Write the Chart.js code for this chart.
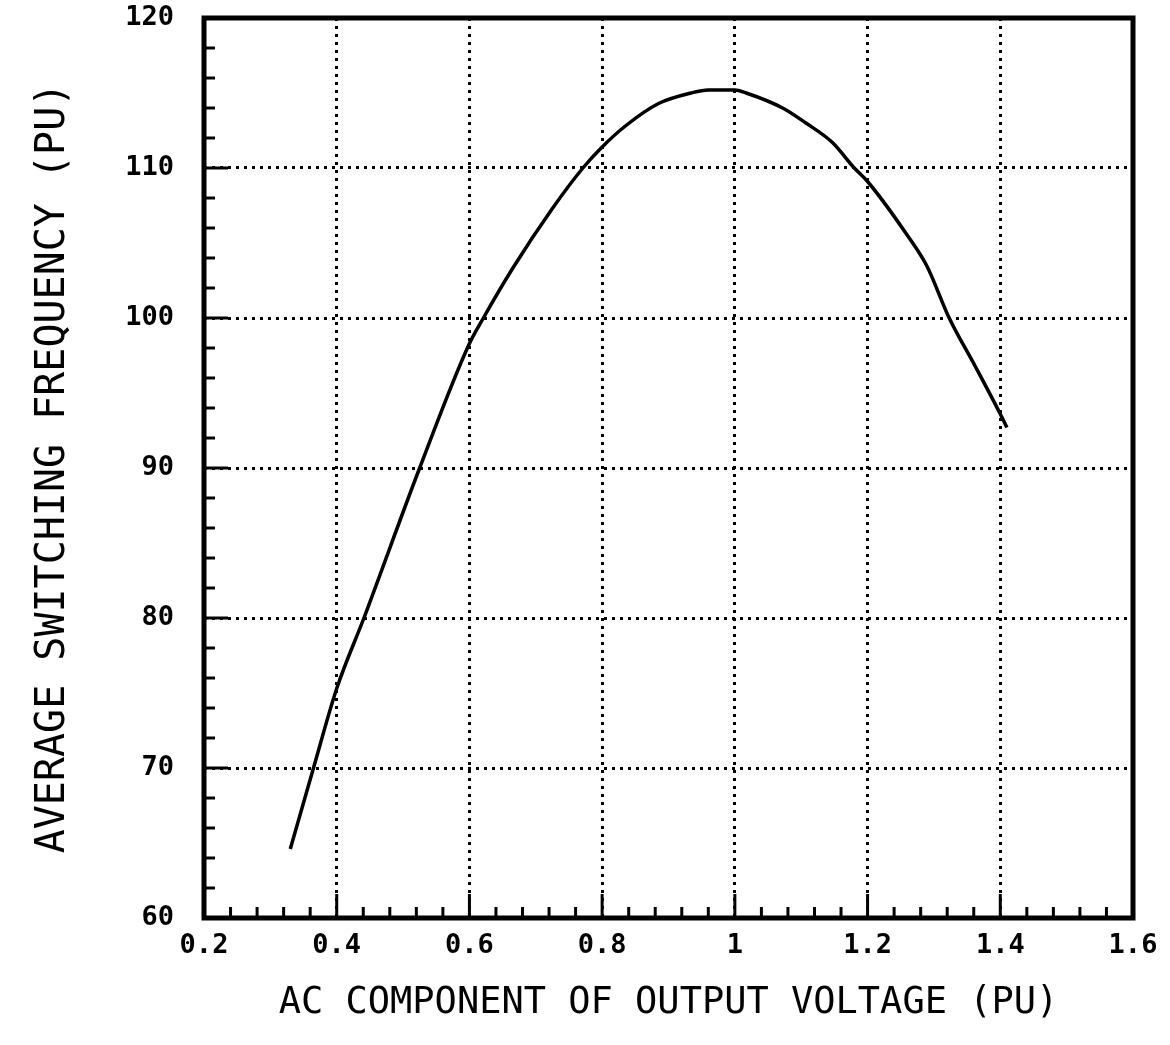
<!DOCTYPE html>
<html>
<head>
<meta charset="utf-8">
<script src="https://cdn.jsdelivr.net/npm/chart.js@4.4.1/dist/chart.umd.min.js"></script>
<style>
  body { margin: 0; background: #fff; }
  #wrap { width: 1170px; height: 1045px; position: relative; }
</style>
</head>
<body>
<div id="wrap"><canvas id="freqChart"></canvas></div>
<script>
// values
var acVoltage = [0.33, 0.365, 0.40, 0.441, 0.525, 0.60, 0.621, 0.665, 0.725, 0.771, 0.80, 0.835, 0.885, 0.934, 0.96, 1.00, 1.017, 1.072, 1.107, 1.147, 1.18, 1.20, 1.257, 1.289, 1.323, 1.362, 1.40, 1.41];
var switchFreq = [64.6, 70.0, 75.3, 80.0, 90.0, 98.3, 100.0, 103.3, 107.3, 110.0, 111.4, 112.8, 114.3, 115.0, 115.2, 115.2, 115.0, 114.0, 113.0, 111.7, 110.0, 109.1, 105.7, 103.5, 100.0, 96.8, 93.6, 92.7];

var xTickLabels = ["0.2", "0.4", "0.6", "0.8", "1", "1.2", "1.4", "1.6"];
var yTickLabels = ["60", "70", "80", "90", "100", "110", "120"];

var points = [];
for (var i = 0; i < acVoltage.length; i++) {
	points.push({ x: acVoltage[i], y: switchFreq[i] });
}

var tickFont = { family: "'DejaVu Sans Mono', monospace", size: 27, weight: 'bold' };

function gridColor(ctx) {
	var s = ctx.scale;
	if (!ctx.tick) return 'rgba(0,0,0,0)';
	if (Math.abs(ctx.tick.value - s.min) < 1e-6 || Math.abs(ctx.tick.value - s.max) < 1e-6) return 'rgba(0,0,0,0)';
	return '#000';
}

// frame plus the small tick marks inside the axes
var framePlugin = {
	id: 'frame',
	afterDraw: function(chart) {
		var c = chart.ctx, a = chart.chartArea;
		var xs = chart.scales.x, ys = chart.scales.y;
		c.save();
		c.strokeStyle = '#000';
		c.lineWidth = 3;
		var v, p, major;
		for (v = 0.24; v < 1.6; v += 0.04) {
			p = xs.getPixelForValue(v);
			major = Math.abs(v * 5 - Math.round(v * 5)) < 1e-6;
			c.beginPath();
			c.moveTo(p, a.bottom);
			c.lineTo(p, a.bottom - (major ? 24 : 11));
			c.stroke();
		}
		for (v = 62; v < 120; v += 2) {
			p = ys.getPixelForValue(v);
			major = v % 10 === 0;
			c.beginPath();
			c.moveTo(a.left, p);
			c.lineTo(a.left + (major ? 24 : 11), p);
			c.stroke();
		}
		c.lineWidth = 5;
		c.strokeRect(a.left, a.top, a.right - a.left, a.bottom - a.top);
		c.restore();
	}
};

var ctx = document.getElementById('freqChart');

var freqChart = new Chart(ctx, {
	type: 'line',
	data: {
		datasets: [
			{
				label: 'Average switching frequency',
				data: points,
				borderColor: '#000',
				borderWidth: 3.5,
				pointRadius: 0,
				fill: false,
				cubicInterpolationMode: 'monotone'
			}
		]
	},
	options: {
		responsive: true,
		maintainAspectRatio: false,
		animation: false,
		layout: { padding: { top: 18, right: 37, bottom: 0, left: 0 } },
		plugins: {
			legend: { display: false },
			tooltip: { enabled: false }
		},
		scales: {
			x: {
				type: 'linear',
				min: 0.2,
				max: 1.6,
				ticks: {
					stepSize: 0.2,
					color: '#000',
					font: tickFont,
					padding: 12,
					maxRotation: 0,
					callback: function(value, index) { return xTickLabels[index]; }
				},
				grid: { color: gridColor, lineWidth: 3, drawTicks: false },
				border: { display: false, dash: [3, 5] },
				title: {
					display: true,
					text: 'AC COMPONENT OF OUTPUT VOLTAGE (PU)',
					color: '#000',
					font: { family: "'DejaVu Sans Mono', monospace", size: 37 },
					padding: { top: 0, bottom: 19 }
				},
				afterFit: function(scale) {
					scale.height = 127;
					scale.paddingLeft = 0;
					scale.paddingRight = 0;
				}
			},
			y: {
				type: 'linear',
				min: 60,
				max: 120,
				ticks: {
					stepSize: 10,
					color: '#000',
					font: tickFont,
					padding: 30,
					callback: function(value, index) { return yTickLabels[index]; }
				},
				grid: { color: gridColor, lineWidth: 3, drawTicks: false },
				border: { display: false, dash: [3, 5] },
				title: {
					display: true,
					text: 'AVERAGE SWITCHING FREQUENCY (PU)',
					color: '#000',
					font: { family: "'DejaVu Sans Mono', monospace", size: 40 },
					padding: { top: 30, bottom: 0 }
				},
				afterFit: function(scale) {
					scale.width = 204;
					scale.paddingTop = 0;
					scale.paddingBottom = 0;
				}
			}
		}
	},
	plugins: [framePlugin]
});
</script>
</body>
</html>
